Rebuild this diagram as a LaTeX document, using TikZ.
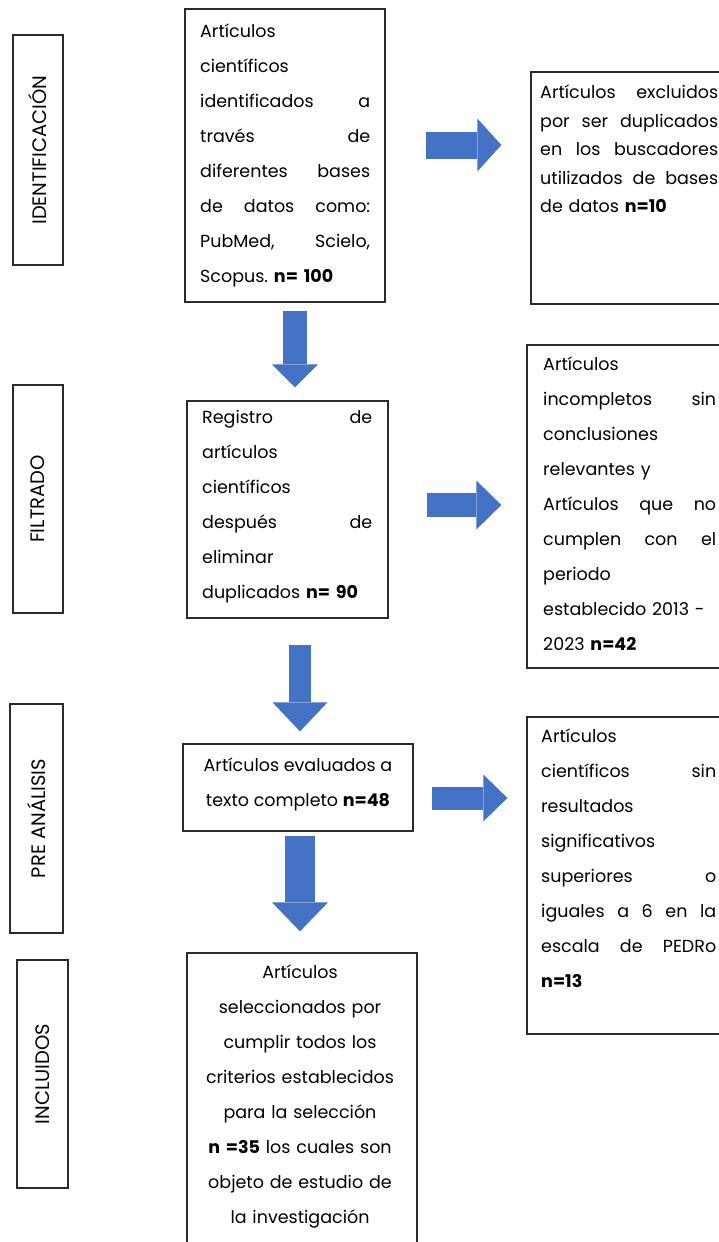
\documentclass[tikz,border=0pt]{standalone}
\usepackage{fontspec}
\setmainfont{Poppins}
\usetikzlibrary{arrows.meta}
\definecolor{ablue}{HTML}{4472C4}
\definecolor{edge}{HTML}{2B2B2B}
\begin{document}
\frenchspacing
\begin{tikzpicture}[x=1pt,y=-1pt,
  box/.style={draw=edge, line width=1.3pt, inner sep=0pt},
  side/.style={draw=edge, line width=1.3pt, inner sep=0pt, rotate=90, font=\fontsize{19.5}{22}\selectfont},
  txt/.style={inner sep=0pt, font=\fontsize{17.5}{35}\selectfont, align=left},
  ctxt/.style={inner sep=0pt, font=\fontsize{17.5}{35}\selectfont, align=center},
  blk/.style n args={3}{draw=ablue, line width=#1pt, -{Triangle[width=#2pt,length=#3pt,line width=0pt]}}
]
\useasboundingbox (0,0) rectangle (719,1242);
\clip (0,0) rectangle (719,1242);
\fill[white] (0,0) rectangle (719,1242);

% side labels
\node[side, minimum width=230pt, minimum height=50pt] (s1) at (38,150) {IDENTIFICACIÓN};
\node[side, minimum width=228pt, minimum height=50pt] (s2) at (38,499) {FILTRADO};
\node[side, minimum width=229pt, minimum height=53pt] (s3) at (36.5,818.5) {PRE ANÁLISIS};
\node[side, minimum width=228pt, minimum height=51pt] (s4) at (42.5,1074) {INCLUIDOS};

% main boxes
\node[box, minimum width=200pt, minimum height=293pt] (b1) at (285,155.5) {};
\node[box, minimum width=201pt, minimum height=217pt] (b2) at (287.5,509.5) {};
\node[box, minimum width=230pt, minimum height=87pt] (b3) at (298,787.5) {};
\node[box, minimum width=230pt, minimum height=297pt] (b4) at (302,1101.5) {};

% right boxes
\node[box, minimum width=199pt, minimum height=232pt] (r1) at (630.5,188) {};
\node[box, minimum width=203pt, minimum height=323pt] (r2) at (628.5,506.5) {};
\node[box, minimum width=203pt, minimum height=317pt] (r3) at (628.5,875.5) {};

% texts
\node[txt, anchor=north west, text width=170pt] (t1) at (200,24) {%
Artículos\\
científicos\\
identificados\hfill a\\
través\hfill de\\
diferentes\hfill bases\\
de\hfill datos\hfill como:\\
PubMed,\hfill Scielo,\\
Scopus. \textbf{n= 100}};

\node[txt, anchor=north west, text width=170pt] (t2) at (202,410) {%
Registro\hfill de\\
artículos\\
científicos\\
después\hfill de\\
eliminar\\
duplicados \textbf{n= 90}};

\node[txt, anchor=north west, text width=178pt, font=\fontsize{17.5}{28.5}\selectfont] (tr1) at (540,85) {%
Artículos\hfill excluidos\\
por\hfill ser\hfill duplicados\\
en\hfill los\hfill buscadores\\
utilizados\hfill de\hfill bases\\
de datos \textbf{n=10}};

\node[txt, anchor=north west, text width=173pt] (tr2) at (543,357) {%
Artículos\\
incompletos\hfill sin\\
conclusiones\\
relevantes y\\
Artículos\hfill que\hfill no\\
cumplen\hfill con\hfill el\\
periodo\\
establecido 2013 -\\
2023 \textbf{n=42}};

\node[txt, anchor=north west, text width=175pt] (tr3) at (541,729) {%
Artículos\\
científicos\hfill sin\\
resultados\\
significativos\\
superiores\hfill o\\
iguales\hfill a\hfill 6\hfill en\hfill la\\
escala\hfill de\hfill PEDRo\\
\textbf{n=13}};

\node[ctxt, anchor=north] (t3) at (298,758) {%
Artículos evaluados a\\
texto completo \textbf{n=48}};

\node[ctxt, anchor=north, text width=226pt] (t4) at (300,965) {%
Artículos\\
seleccionados por\\
cumplir todos los\\
criterios establecidos\\
para la selección\\
\textbf{n =35} los cuales son\\
objeto de estudio de\\
la investigación};

% block arrows
\draw[blk={24}{46}{23}] ([shift={(10,8)}]b1.south) -- ([shift={(7.5,-13)}]b2.north);
\draw[blk={22}{55}{29}] ([shift={(12.5,26)}]b2.south) -- ([shift={(2,-12)}]b3.north);
\draw[blk={30}{56}{29}] ([shift={(2,4)}]b3.south) -- ([shift={(-2,-21)}]b4.north);
\draw[blk={27}{53}{24}] ([shift={(40,-10.5)}]b1.east) -- ([shift={(-29,-43)}]r1.west);
\draw[blk={24}{49}{25}] ([shift={(38,-4.5)}]b2.east) -- ([shift={(-25,-1.5)}]r2.west);
\draw[blk={23}{47}{24}] ([shift={(18,10.5)}]b3.east) -- ([shift={(-19,-77.5)}]r3.west);
\end{tikzpicture}
\end{document}
